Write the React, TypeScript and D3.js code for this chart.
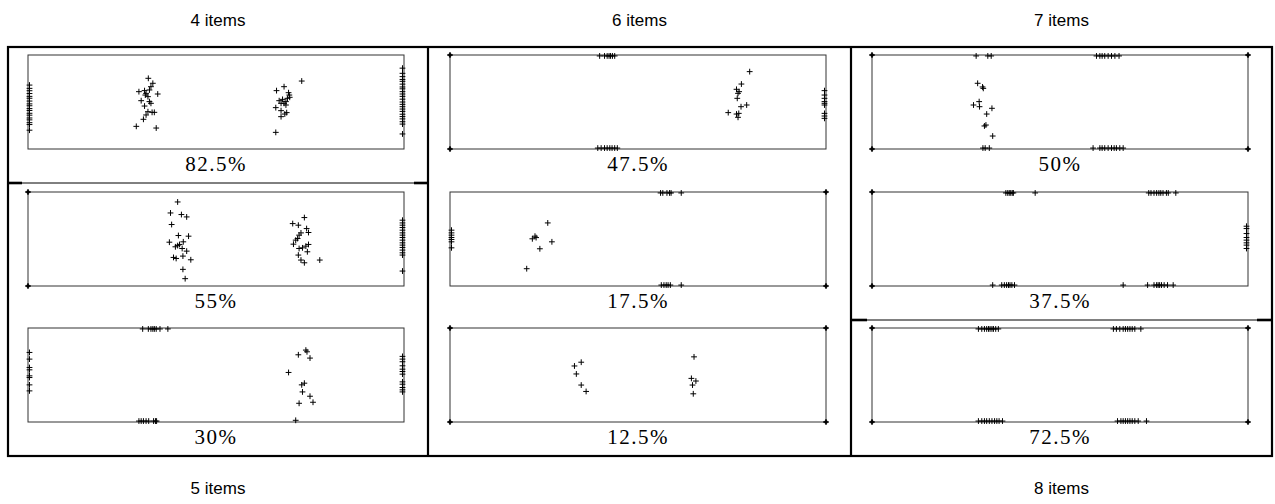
import React from "react";
import * as d3 from "d3";

type Pt = [number, number];

const topTitles = ["4 items", "6 items", "7 items"];
const bottomTitles = ["5 items", "", "8 items"];

// Panel labels, column by column, top to bottom
const panelLabels = ["82.5%", "55%", "30%", "47.5%", "17.5%", "12.5%", "50%", "37.5%", "72.5%"];

// Corner points (drawn bold), same order as panelLabels
const corners825: Pt[] = [];
const corners55: Pt[] = [[0, 0], [0, 1]];
const corners30: Pt[] = [];
const corners475: Pt[] = [[0, 0], [0, 1]];
const corners175: Pt[] = [[1, 0], [1, 1]];
const corners125: Pt[] = [[0, 0], [0, 1], [1, 0], [1, 1]];
const corners50: Pt[] = [[0, 0], [0, 1], [1, 0], [1, 1]];
const corners375: Pt[] = [[0, 0], [0, 1]];
const corners725: Pt[] = [[0, 0], [0, 1], [1, 0], [1, 1]];

// 4 items — 82.5%
const points825: Pt[] = [
  [0.004, 0.32], [0.004, 0.355], [0.004, 0.38], [0.004, 0.41], [0.004, 0.44], [0.004, 0.46],
  [0.004, 0.49], [0.004, 0.52], [0.004, 0.54], [0.004, 0.57], [0.004, 0.59], [0.004, 0.62],
  [0.004, 0.64], [0.004, 0.67], [0.004, 0.69], [0.004, 0.72], [0.004, 0.74], [0.004, 0.8],
  [0.32, 0.248], [0.332, 0.301], [0.327, 0.337], [0.295, 0.39], [0.31, 0.379], [0.323, 0.372],
  [0.314, 0.408], [0.312, 0.426], [0.345, 0.415], [0.319, 0.443], [0.301, 0.486], [0.323, 0.496],
  [0.327, 0.514], [0.31, 0.543], [0.336, 0.61], [0.33, 0.61], [0.319, 0.603], [0.314, 0.638],
  [0.307, 0.684], [0.288, 0.759], [0.341, 0.777],
  [0.728, 0.277], [0.681, 0.337], [0.661, 0.379], [0.693, 0.401], [0.695, 0.426], [0.696, 0.45],
  [0.69, 0.461], [0.677, 0.472], [0.668, 0.486], [0.686, 0.496], [0.681, 0.514], [0.673, 0.514],
  [0.686, 0.532], [0.659, 0.56], [0.673, 0.592], [0.688, 0.613], [0.683, 0.628], [0.673, 0.656],
  [0.659, 0.823],
  [0.996, 0.14], [0.996, 0.195], [0.996, 0.23], [0.996, 0.26], [0.996, 0.28], [0.996, 0.31],
  [0.996, 0.34], [0.996, 0.36], [0.996, 0.39], [0.996, 0.415], [0.996, 0.44], [0.996, 0.47],
  [0.996, 0.5], [0.996, 0.525], [0.996, 0.55], [0.996, 0.575], [0.996, 0.6], [0.996, 0.63],
  [0.996, 0.655], [0.996, 0.68], [0.996, 0.71], [0.996, 0.735], [0.996, 0.84],
];

// 5 items — 55%
const points55: Pt[] = [
  [0.398, 0.106], [0.379, 0.223], [0.408, 0.24], [0.422, 0.265], [0.382, 0.346], [0.4, 0.463],
  [0.427, 0.47], [0.376, 0.534], [0.413, 0.53], [0.403, 0.558], [0.392, 0.583], [0.398, 0.57],
  [0.41, 0.601], [0.422, 0.629], [0.412, 0.682], [0.387, 0.696], [0.394, 0.707], [0.433, 0.721],
  [0.412, 0.823], [0.418, 0.922],
  [0.735, 0.272], [0.704, 0.336], [0.719, 0.353], [0.741, 0.389], [0.746, 0.431], [0.726, 0.435],
  [0.721, 0.459], [0.717, 0.495], [0.712, 0.512], [0.706, 0.555], [0.746, 0.558], [0.739, 0.576],
  [0.721, 0.601], [0.73, 0.594], [0.743, 0.636], [0.719, 0.671], [0.726, 0.724], [0.735, 0.753],
  [0.776, 0.724],
  [0.996, 0.3], [0.996, 0.329], [0.996, 0.353], [0.996, 0.378], [0.996, 0.406], [0.996, 0.435],
  [0.996, 0.459], [0.996, 0.484], [0.996, 0.512], [0.996, 0.541], [0.996, 0.565], [0.996, 0.59],
  [0.996, 0.618], [0.996, 0.647], [0.996, 0.671], [0.996, 0.841],
];

// 5 items — 30%
const points30: Pt[] = [
  [0.305, 0.01], [0.32, 0.01], [0.327, 0.01], [0.332, 0.01], [0.336, 0.01], [0.341, 0.01],
  [0.351, 0.01], [0.372, 0.01],
  [0.295, 0.99], [0.301, 0.99], [0.307, 0.99], [0.314, 0.99], [0.321, 0.99], [0.334, 0.99],
  [0.339, 0.99], [0.342, 0.99],
  [0.004, 0.26], [0.004, 0.331], [0.004, 0.42], [0.004, 0.445], [0.004, 0.509], [0.004, 0.527],
  [0.004, 0.605], [0.004, 0.669],
  [0.739, 0.235], [0.742, 0.253], [0.719, 0.285], [0.75, 0.32], [0.693, 0.473], [0.728, 0.605],
  [0.735, 0.587], [0.73, 0.68], [0.75, 0.726], [0.721, 0.801], [0.758, 0.79], [0.712, 0.982],
  [0.996, 0.302], [0.996, 0.331], [0.996, 0.359], [0.996, 0.402], [0.996, 0.438], [0.996, 0.463],
  [0.996, 0.491], [0.996, 0.573], [0.996, 0.598], [0.996, 0.633], [0.996, 0.658], [0.996, 0.68],
];

// 6 items — 47.5%
const points475: Pt[] = [
  [0.398, 0.01], [0.411, 0.01], [0.418, 0.01], [0.423, 0.01], [0.427, 0.01], [0.432, 0.01], [0.438, 0.01],
  [0.393, 0.99], [0.402, 0.99], [0.411, 0.99], [0.418, 0.99], [0.425, 0.99], [0.431, 0.99],
  [0.438, 0.99], [0.445, 0.99],
  [0.797, 0.177], [0.775, 0.309], [0.762, 0.365], [0.769, 0.39], [0.766, 0.408], [0.764, 0.461],
  [0.789, 0.532], [0.774, 0.55], [0.74, 0.613], [0.762, 0.628], [0.768, 0.621], [0.766, 0.663],
  [0.996, 0.379], [0.996, 0.426], [0.996, 0.461], [0.996, 0.496], [0.996, 0.514], [0.996, 0.532],
  [0.996, 0.621], [0.996, 0.649], [0.996, 0.674],
];

// 6 items — 17.5%
const points175: Pt[] = [
  [0.56, 0.01], [0.566, 0.01], [0.577, 0.01], [0.584, 0.01], [0.588, 0.01], [0.615, 0.01],
  [0.562, 0.99], [0.569, 0.99], [0.575, 0.99], [0.58, 0.99], [0.586, 0.99], [0.615, 0.99],
  [0.004, 0.406], [0.004, 0.435], [0.004, 0.459], [0.004, 0.484], [0.004, 0.505], [0.004, 0.53],
  [0.004, 0.594],
  [0.26, 0.329], [0.226, 0.47], [0.219, 0.498], [0.229, 0.485], [0.271, 0.53], [0.239, 0.604],
  [0.204, 0.816],
];

// 6 items — 12.5%
const points125: Pt[] = [
  [0.349, 0.364], [0.331, 0.404], [0.336, 0.489], [0.349, 0.607], [0.362, 0.675],
  [0.649, 0.307], [0.642, 0.536], [0.654, 0.564], [0.645, 0.607], [0.647, 0.7],
];

// 7 items — 50%
const points50: Pt[] = [
  [0.277, 0.01], [0.308, 0.01], [0.317, 0.01],
  [0.597, 0.01], [0.606, 0.01], [0.612, 0.01], [0.619, 0.01], [0.628, 0.01], [0.637, 0.01],
  [0.646, 0.01], [0.657, 0.01],
  [0.295, 0.99], [0.301, 0.99], [0.312, 0.99],
  [0.588, 0.99], [0.606, 0.99], [0.612, 0.99], [0.619, 0.99], [0.628, 0.99], [0.637, 0.99],
  [0.644, 0.99], [0.65, 0.99], [0.659, 0.99], [0.668, 0.99],
  [0.281, 0.301], [0.296, 0.355], [0.294, 0.34], [0.285, 0.496], [0.27, 0.532], [0.286, 0.55],
  [0.319, 0.567], [0.305, 0.628], [0.303, 0.745], [0.299, 0.755], [0.321, 0.862],
];

// 7 items — 37.5%
const points375: Pt[] = [
  [0.356, 0.01], [0.361, 0.01], [0.365, 0.01], [0.369, 0.01], [0.373, 0.01], [0.376, 0.01], [0.434, 0.01],
  [0.736, 0.01], [0.742, 0.01], [0.75, 0.01], [0.757, 0.01], [0.763, 0.01], [0.768, 0.01],
  [0.774, 0.01], [0.783, 0.01], [0.788, 0.01], [0.808, 0.01],
  [0.321, 0.99], [0.345, 0.99], [0.352, 0.99], [0.358, 0.99], [0.363, 0.99], [0.367, 0.99],
  [0.372, 0.99], [0.379, 0.99], [0.668, 0.99],
  [0.733, 0.99], [0.75, 0.99], [0.757, 0.99], [0.761, 0.99], [0.765, 0.99], [0.77, 0.99],
  [0.777, 0.99], [0.786, 0.99], [0.801, 0.99],
  [0.996, 0.364], [0.996, 0.389], [0.996, 0.442], [0.996, 0.484], [0.996, 0.512], [0.996, 0.541],
  [0.996, 0.565], [0.996, 0.601],
];

// 8 items — 72.5%
const points725: Pt[] = [
  [0.283, 0.01], [0.292, 0.01], [0.299, 0.01], [0.305, 0.01], [0.31, 0.01], [0.314, 0.01],
  [0.319, 0.01], [0.323, 0.01], [0.329, 0.01], [0.336, 0.01],
  [0.642, 0.01], [0.65, 0.01], [0.659, 0.01], [0.668, 0.01], [0.674, 0.01], [0.68, 0.01],
  [0.686, 0.01], [0.692, 0.01], [0.699, 0.01], [0.715, 0.01],
  [0.283, 0.99], [0.292, 0.99], [0.299, 0.99], [0.305, 0.99], [0.312, 0.99], [0.319, 0.99],
  [0.326, 0.99], [0.332, 0.99], [0.338, 0.99], [0.347, 0.99],
  [0.653, 0.99], [0.662, 0.99], [0.668, 0.99], [0.674, 0.99], [0.68, 0.99], [0.686, 0.99],
  [0.692, 0.99], [0.699, 0.99], [0.708, 0.99], [0.73, 0.99],
];

const panelPoints: Pt[][] = [points825, points55, points30, points475, points175, points125, points50, points375, points725];
const panelCorners: Pt[][] = [corners825, corners55, corners30, corners475, corners175, corners125, corners50, corners375, corners725];

const W = 1275;
const H = 504;
const colLeft = [28, 450, 872];
const rowTop = [55, 192, 328];
const panelW = 376;
const panelH = 94;

const frameL = 8;
const frameR = 1272;
const frameT = 47;
const frameB = 456;
const dividers = [428, 851];

const Plus: React.FC<{ x: number; y: number; s?: number; w?: number }> = ({ x, y, s = 2.9, w = 1 }) => (
  <path d={`M${x - s},${y}H${x + s}M${x},${y - s}V${y + s}`} stroke="#000" strokeWidth={w} fill="none" />
);

export default function App() {
  const panels = [];
  for (let c = 0; c < 3; c++) {
    for (let r = 0; r < 3; r++) {
      const idx = c * 3 + r;
      const x = d3.scaleLinear().domain([0, 1]).range([colLeft[c], colLeft[c] + panelW]);
      const y = d3.scaleLinear().domain([0, 1]).range([rowTop[r], rowTop[r] + panelH]);
      panels.push(
        <g key={idx}>
          <rect x={x(0)} y={y(0)} width={x(1) - x(0)} height={y(1) - y(0)} fill="none" stroke="#333" strokeWidth={1} />
          {panelPoints[idx].map((p, i) => (
            <Plus key={i} x={x(p[0])} y={y(p[1])} />
          ))}
          {panelCorners[idx].map((p, i) => (
            <g key={"c" + i}>
              <Plus x={x(p[0])} y={y(p[1])} s={2.8} w={1.6} />
              <circle cx={x(p[0])} cy={y(p[1])} r={1.8} fill="#000" />
            </g>
          ))}
          <text
            x={(x(0) + x(1)) / 2}
            y={y(1) + 22}
            textAnchor="middle"
            fontFamily="'Liberation Serif', 'DejaVu Serif', serif"
            fontSize={21}
            letterSpacing={1.5}
            fill="#000"
          >
            {panelLabels[idx]}
          </text>
        </g>
      );
    }
  }
  const colCenters = [(frameL + dividers[0]) / 2, (dividers[0] + dividers[1]) / 2, (dividers[1] + frameR) / 2];
  const stubs: [number, number, number][] = [];
  stubs.push([frameL, frameL + 14, 183], [dividers[0] - 14, dividers[0], 183]);
  stubs.push([dividers[1], dividers[1] + 16, 320], [frameR - 15, frameR, 320]);

  const titleProps = {
    textAnchor: "middle" as const,
    fontFamily: "'Liberation Sans', Arial, sans-serif",
    fontSize: 17,
    fill: "#000",
  };

  return (
    <svg width={W} height={H} style={{ position: "absolute", left: 0, top: 0, background: "#fff" }}>
      <rect x={0} y={0} width={W} height={H} fill="#fff" />
      {topTitles.map((t, i) => (
        <text key={t} x={colCenters[i]} y={26} {...titleProps}>
          {t}
        </text>
      ))}
      {bottomTitles.map((t, i) =>
        t ? (
          <text key={t} x={colCenters[i]} y={494} {...titleProps}>
            {t}
          </text>
        ) : null
      )}
      <rect x={frameL} y={frameT} width={frameR - frameL} height={frameB - frameT} fill="none" stroke="#000" strokeWidth={2.2} />
      {dividers.map((d) => (
        <line key={d} x1={d} x2={d} y1={frameT} y2={frameB} stroke="#000" strokeWidth={2.2} />
      ))}
      <line x1={frameL} x2={dividers[0]} y1={183} y2={183} stroke="#000" strokeWidth={1} />
      <line x1={dividers[1]} x2={frameR} y1={320} y2={320} stroke="#000" strokeWidth={1} />
      {stubs.map((s, i) => (
        <line key={i} x1={s[0]} x2={s[1]} y1={s[2]} y2={s[2]} stroke="#000" strokeWidth={2.6} />
      ))}
      {panels}
    </svg>
  );
}
